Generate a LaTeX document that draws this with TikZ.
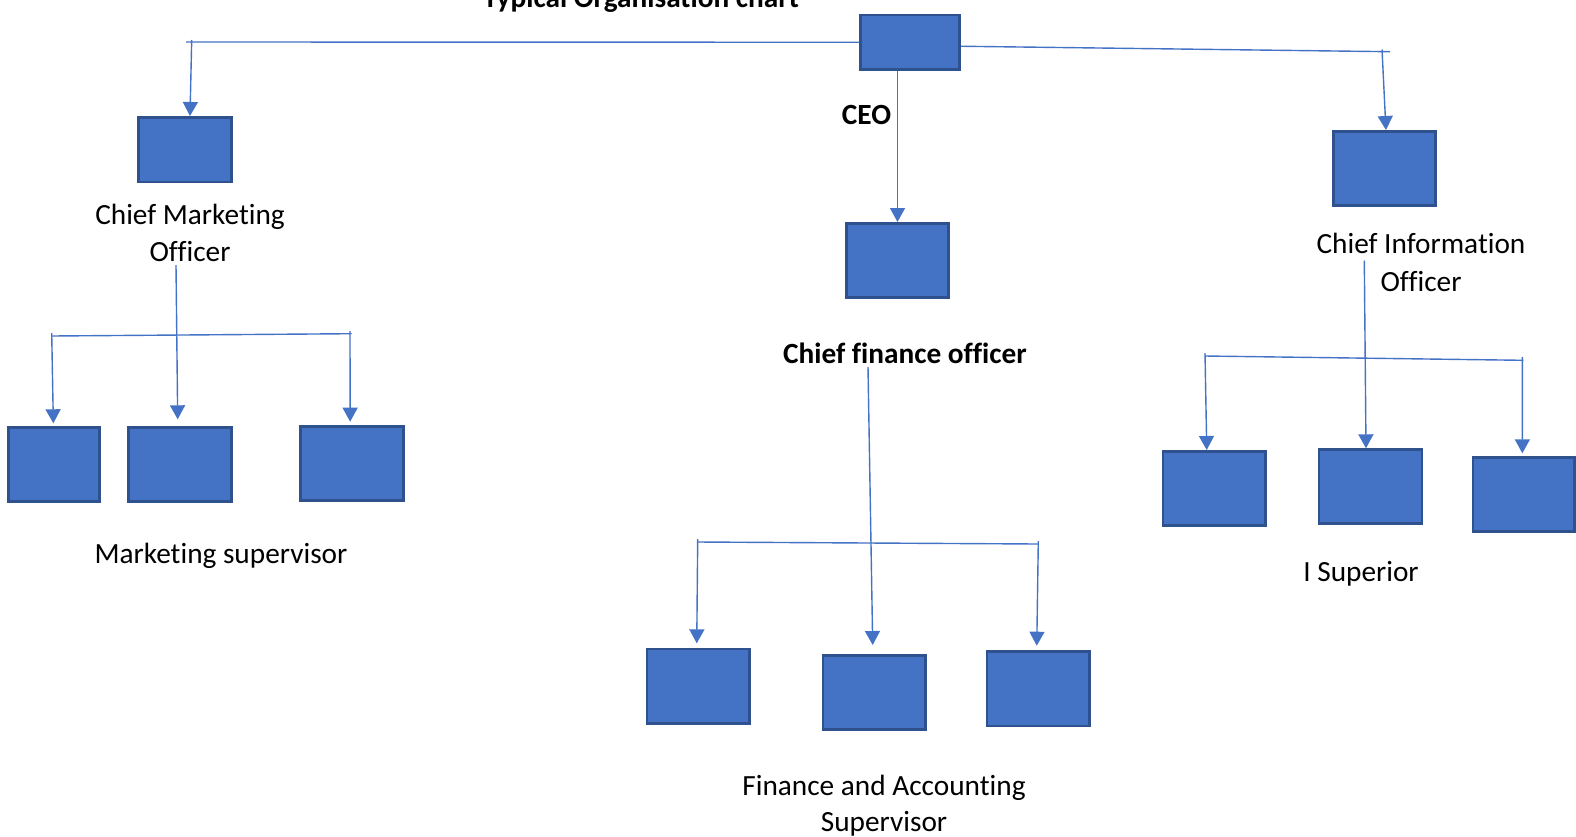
\documentclass[tikz,border=0pt]{standalone}
\usepackage{fontspec}
\setmainfont{Carlito}[Ligatures=NoCommon]
\usetikzlibrary{arrows.meta}
\definecolor{boxfill}{HTML}{4472C4}
\definecolor{boxline}{HTML}{2F528F}
\definecolor{wirecol}{HTML}{4472C4}

\begin{document}
\begin{tikzpicture}[x=1pt,y=-1pt,
  box/.style={draw=boxline, fill=boxfill, line width=2.7pt, inner sep=0pt},
  wire/.style={draw=wirecol, line width=1.4pt},
  arr/.style={wire, -{Triangle[width=15pt,length=14pt]}},
  lbl/.style={font=\fontsize{29.3}{36}\selectfont, anchor=base, inner sep=0pt},
  blbl/.style={lbl, font=\fontsize{29.3}{36}\selectfont\bfseries}]

\useasboundingbox (0,0) rectangle (1576,836);

% ---- boxes ----
\node[box, minimum width=99.3pt,  minimum height=54.8pt] (ceo) at (910,42.25) {};
\node[box, minimum width=93.3pt,  minimum height=64.6pt] (cmo) at (185,149.65) {};
\node[box, minimum width=102.3pt, minimum height=73.8pt] (cfo) at (897.5,260.25) {};
\node[box, minimum width=102pt,   minimum height=74pt]   (cio) at (1384.35,168.35) {};

\node[box, minimum width=91pt,    minimum height=74pt]   (m1) at (54.15,464.35) {};
\node[box, minimum width=102.7pt, minimum height=74pt]   (m2) at (180,464.35) {};
\node[box, minimum width=103pt,   minimum height=74pt]   (m3) at (352.15,463.65) {};

\node[box, minimum width=102.6pt, minimum height=74.6pt] (f1) at (698.35,686.35) {};
\node[box, minimum width=102.3pt, minimum height=74.3pt] (f2) at (874.2,692.5) {};
\node[box, minimum width=102.6pt, minimum height=74.6pt] (f3) at (1038.35,688.65) {};

\node[box, minimum width=102.6pt, minimum height=74pt]   (i1) at (1214.35,488.35) {};
\node[box, minimum width=102.9pt, minimum height=74pt]   (i2) at (1370.5,486.65) {};
\node[box, minimum width=101.6pt, minimum height=74pt]   (i3) at (1523.85,494.35) {};

% ---- labels ----
\node[blbl] (title) at (641,7) {Typical Organisation chart};
\node[blbl] (ceoT) at (866.5,124) {CEO};
\node[lbl] (cmoT1) at (190,224.3) {Chief Marketing};
\node[lbl] (cmoT2) at (190,261.7) {Officer};
\node[lbl] (msT) at (221,563) {Marketing supervisor};
\node[blbl] (cfoT) at (905,363) {Chief finance officer};
\node[lbl] (faT1) at (884,795) {Finance and Accounting};
\node[lbl] (faT2) at (884,831.7) {Supervisor};
\node[lbl] (cioT1) at (1421,253.3) {Chief Information};
\node[lbl] (cioT2) at (1421,291.7) {Officer};
\node[lbl] (isT) at (1361,581.7) {I Superior};

% ---- junction points ----
\coordinate (tl) at (186,42);
\coordinate (tlDown) at (191.7,40);
\coordinate (tr) at (1390,51.7);
\coordinate (trDown) at (1382,49.5);

\coordinate (mTop) at (176,265);
\coordinate (mL) at (51.7,336);
\coordinate (mR) at (351.7,333.7);
\coordinate (mLd) at (51.7,333);
\coordinate (mRd) at (350,331);

\coordinate (fTop) at (868,367);
\coordinate (fL) at (697.7,542);
\coordinate (fR) at (1038.3,544);
\coordinate (fLd) at (697.7,539);
\coordinate (fRd) at (1038.3,541);

\coordinate (iTop) at (1364.3,260.7);
\coordinate (iL) at (1205,356);
\coordinate (iR) at (1523.3,360.3);
\coordinate (iLd) at (1205,353);
\coordinate (iRd) at (1522.3,357);

% ---- CEO level ----
\draw[wire] (ceo.west) -- (tl);
\draw[arr] (tlDown) -- ([xshift=5pt]cmo.north);
\draw[wire] ([yshift=-4pt]ceo.east) -- (tr);
\draw[arr] (trDown) -- ([xshift=1.6pt]cio.north);
\draw[arr] ([xshift=-12.5pt]ceo.south) -- (cfo.north);

% ---- marketing branch ----
\draw[wire] (mL) -- (mR);
\draw[arr] (mLd) -- ([xshift=-0.8pt,yshift=2.7pt]m1.north);
\draw[arr] (mTop) -- ([xshift=-2.3pt,yshift=6.7pt]m2.north);
\draw[arr] (mRd) -- ([xshift=-2pt,yshift=3.6pt]m3.north);

% ---- finance branch ----
\draw[wire] (fL) -- (fR);
\draw[arr] (fLd) -- ([xshift=-1.6pt,yshift=4.4pt]f1.north);
\draw[arr] (fTop) -- ([xshift=-1.5pt,yshift=9pt]f2.north);
\draw[arr] (fRd) -- ([xshift=-1.6pt,yshift=4.3pt]f3.north);

% ---- information branch ----
\draw[wire] (iL) -- (iR);
\draw[arr] (iLd) -- ([xshift=-7.6pt]i1.north);
\draw[arr] (iTop) -- ([xshift=-4.5pt]i2.north);
\draw[arr] (iRd) -- ([xshift=-1.5pt,yshift=2.7pt]i3.north);
\end{tikzpicture}
\end{document}
